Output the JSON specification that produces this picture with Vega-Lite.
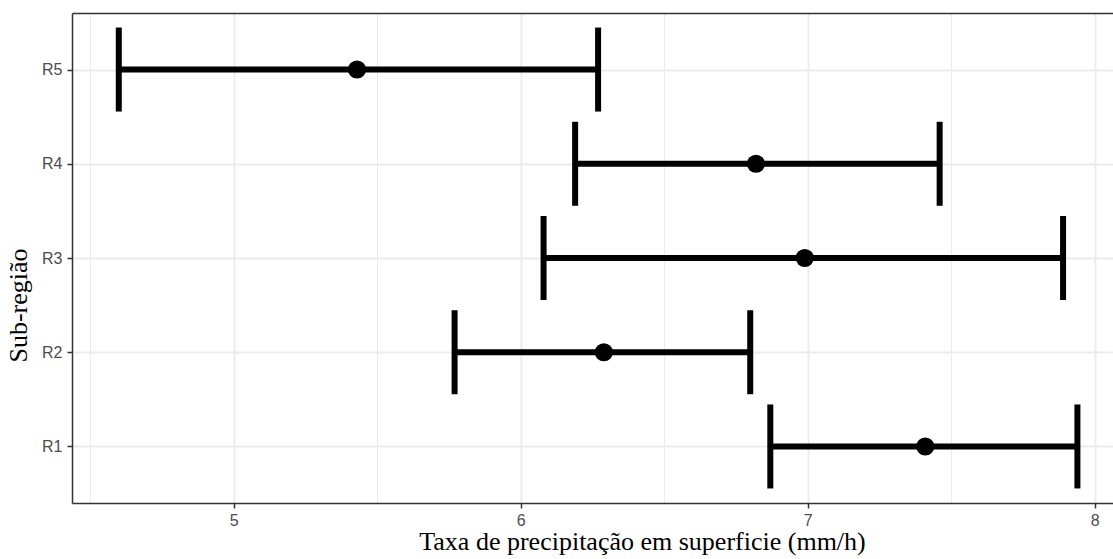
{
  "$schema": "https://vega.github.io/schema/vega-lite/v6.json",
  "autosize": "none",
  "width": 1041,
  "height": 490,
  "padding": {"left": 72, "top": 13, "right": 0, "bottom": 56},
  "background": "white",
  "config": {
    "view": {"stroke": null},
    "axis": {
      "labelFont": "Liberation Sans",
      "labelFontSize": 16,
      "labelColor": "#4d4d4d",
      "tickColor": "#333333",
      "tickSize": 5,
      "tickWidth": 1.5,
      "domainColor": "#333333",
      "domainWidth": 1.5,
      "gridColor": "#ebebeb",
      "gridWidth": 1.8,
      "titleFont": "Liberation Serif",
      "titleFontSize": 26,
      "titleFontWeight": "normal",
      "titleColor": "#000000"
    }
  },
  "data": {
    "values": [
      {"region": "R1", "low": 6.87, "mean": 7.41, "high": 7.94},
      {"region": "R2", "low": 5.77, "mean": 6.29, "high": 6.80},
      {"region": "R3", "low": 6.08, "mean": 6.99, "high": 7.89},
      {"region": "R4", "low": 6.19, "mean": 6.82, "high": 7.46},
      {"region": "R5", "low": 4.60, "mean": 5.43, "high": 6.27}
    ]
  },
  "encoding": {
    "y": {
      "field": "region",
      "type": "nominal",
      "scale": {"type": "point", "padding": 0.6, "domain": ["R5", "R4", "R3", "R2", "R1"]},
      "axis": {"title": "Sub-região", "labelPadding": 5, "titlePadding": 10, "titleY": 292, "titleAnchor": "middle", "grid": true}
    }
  },
  "layer": [
    {
      "mark": {"type": "rule", "strokeWidth": 0, "opacity": 0},
      "encoding": {
        "x": {
          "field": "mean",
          "type": "quantitative",
          "scale": {"domain": [4.437, 8.064], "nice": false, "zero": false},
          "axis": {"orient": "bottom", "values": [4.5, 5.5, 6.5, 7.5], "labels": false, "ticks": false, "domain": false, "grid": true, "gridWidth": 1, "title": null}
        }
      }
    },
    {
      "mark": {"type": "rule", "strokeWidth": 0, "opacity": 0},
      "encoding": {
        "x": {
          "field": "mean",
          "type": "quantitative",
          "axis": {"orient": "top", "values": [], "labels": false, "ticks": false, "domain": true, "grid": false, "title": null}
        }
      }
    },
    {
      "mark": {"type": "rule", "color": "black", "strokeWidth": 6},
      "encoding": {
        "x": {
          "field": "low",
          "type": "quantitative",
          "axis": {"orient": "bottom", "values": [5, 6, 7, 8], "grid": true, "labelPadding": 4, "title": "Taxa de precipitação em superficie  (mm/h)", "titlePadding": 0, "titleX": 570, "titleAnchor": "middle"}
        },
        "x2": {"field": "high"}
      }
    },
    {
      "mark": {"type": "tick", "color": "black", "size": 84, "thickness": 6, "orient": "vertical", "opacity": 1},
      "encoding": {"x": {"field": "low", "type": "quantitative", "axis": null}}
    },
    {
      "mark": {"type": "tick", "color": "black", "size": 84, "thickness": 6, "orient": "vertical", "opacity": 1},
      "encoding": {"x": {"field": "high", "type": "quantitative", "axis": null}}
    },
    {
      "mark": {"type": "point", "filled": true, "color": "black", "size": 330, "opacity": 1},
      "encoding": {"x": {"field": "mean", "type": "quantitative", "axis": null}}
    }
  ],
  "resolve": {"axis": {"x": "independent"}}
}
